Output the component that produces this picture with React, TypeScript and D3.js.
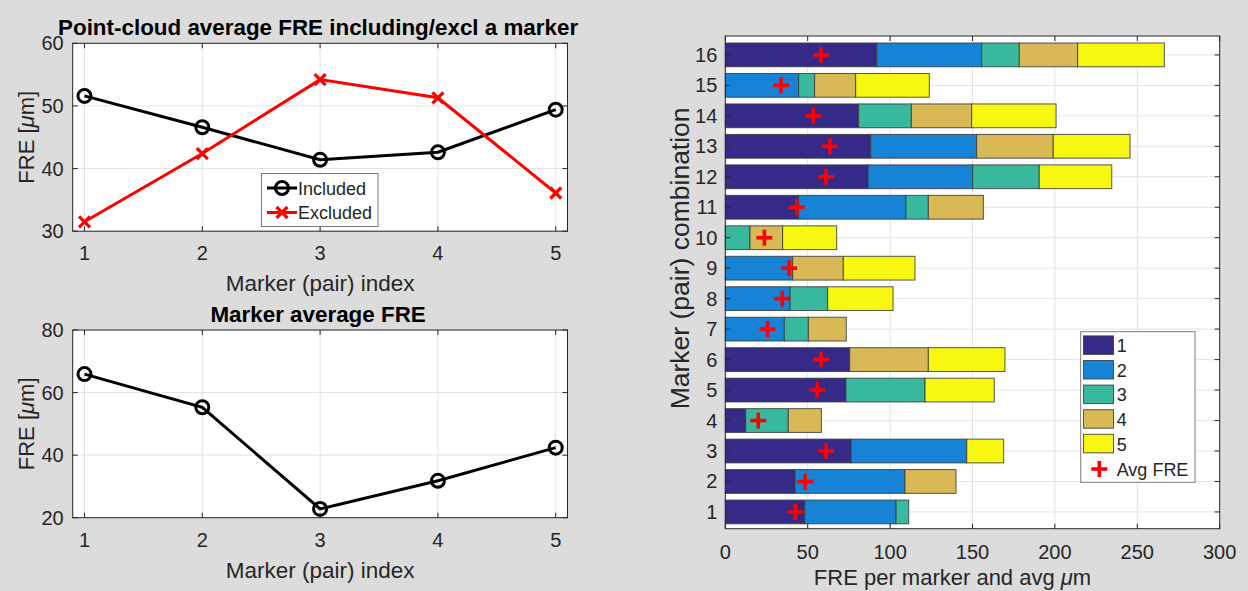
import React from "react";
import * as d3 from "d3";

// ---- data ----
const markerIdx = [1, 2, 3, 4, 5];
const includedFRE = [51.6, 46.6, 41.4, 42.6, 49.4];
const excludedFRE = [31.5, 42.4, 54.2, 51.3, 36.1];
const markerAvgFRE = [65.9, 55.3, 22.8, 31.8, 42.4];

const comboIds = [1, 2, 3, 4, 5, 6, 7, 8, 9, 10, 11, 12, 13, 14, 15, 16];
// FRE contribution of each marker within every combination
const m1 = [48.2, 42.3, 76.3, 12.4, 73.2, 75.5, 0, 0, 0, 0, 44.5, 86.6, 88.2, 80.9, 0, 91.9];
const m2 = [55.4, 66.7, 70.2, 0, 0, 0, 35.8, 39.3, 40.9, 0, 65.1, 63.5, 64.3, 0, 44.5, 63.7];
const m3 = [7.7, 0, 0, 25.8, 48.0, 0, 14.6, 22.8, 0, 15.0, 13.6, 40.4, 0, 32.0, 9.7, 22.8];
const m4 = [0, 31.0, 0, 20.1, 0, 47.7, 23.0, 0, 30.7, 19.8, 33.4, 0, 46.5, 36.6, 24.9, 35.4];
const m5 = [0, 0, 22.4, 0, 42.0, 46.5, 0, 39.7, 43.5, 32.8, 0, 44.0, 46.6, 51.2, 44.7, 52.6];
const comboAvg = [42.5, 48.5, 61.1, 20.0, 55.8, 58.1, 25.7, 34.6, 38.7, 23.7, 43.3, 61.1, 63.5, 53.4, 33.8, 58.1];

const seriesKeys = ["1", "2", "3", "4", "5"];
const seriesColors = ["#352a87", "#1683d6", "#38b99e", "#d8b956", "#f7f711"];

const xTicksRight = [0, 50, 100, 150, 200, 250, 300];
const yTicksTop = [30, 40, 50, 60];
const yTicksBottom = [20, 40, 60, 80];

const FONT = "'Liberation Sans', Arial, Helvetica, sans-serif";
const AXIS = "#262626";
const GRID = "#e3e3e3";

type Pt = [number, number];

function XMark({ x, y, s, color }: { x: number; y: number; s: number; color: string }) {
  return (
    <g stroke={color} strokeWidth={3.2} strokeLinecap="butt">
      <line x1={x - s} y1={y - s} x2={x + s} y2={y + s} />
      <line x1={x - s} y1={y + s} x2={x + s} y2={y - s} />
    </g>
  );
}

function PlusMark({ x, y, s, color }: { x: number; y: number; s: number; color: string }) {
  return (
    <g stroke={color} strokeWidth={3.6}>
      <line x1={x - s} y1={y} x2={x + s} y2={y} />
      <line x1={x} y1={y - s} x2={x} y2={y + s} />
    </g>
  );
}

function LinePanel(props: {
  top: number;
  bottom: number;
  yDomain: [number, number];
  yTicks: number[];
  title: string;
  series: { values: number[]; color: string; marker: "o" | "x" }[];
  legend?: boolean;
}) {
  const { top, bottom, yDomain, yTicks, title, series, legend } = props;
  const left = 72.7;
  const right = 567.5;
  const x = d3.scaleLinear().domain([0.9, 5.1]).range([left, right]);
  const y = d3.scaleLinear().domain(yDomain).range([bottom, top]);
  const line = d3
    .line<Pt>()
    .x((d) => x(d[0]))
    .y((d) => y(d[1]));
  const midY = (top + bottom) / 2;
  return (
    <g fontFamily={FONT}>
      <rect x={left} y={top} width={right - left} height={bottom - top} fill="#fff" />
      {markerIdx.map((v) => (
        <line key={"gx" + v} x1={x(v)} x2={x(v)} y1={top} y2={bottom} stroke={GRID} strokeWidth={1} />
      ))}
      {yTicks.map((v) => (
        <line key={"gy" + v} x1={left} x2={right} y1={y(v)} y2={y(v)} stroke={GRID} strokeWidth={1} />
      ))}
      {series.map((s, i) => {
        const pts: Pt[] = s.values.map((v, k) => [markerIdx[k], v]);
        return (
          <g key={"s" + i}>
            <path d={line(pts) || ""} fill="none" stroke={s.color} strokeWidth={3} />
            {pts.map((p, k) =>
              s.marker === "o" ? (
                <circle key={k} cx={x(p[0])} cy={y(p[1])} r={6.5} fill="none" stroke={s.color} strokeWidth={3} />
              ) : (
                <XMark key={k} x={x(p[0])} y={y(p[1])} s={5.5} color={s.color} />
              )
            )}
          </g>
        );
      })}
      <rect x={left} y={top} width={right - left} height={bottom - top} fill="none" stroke={AXIS} strokeWidth={1} />
      {markerIdx.map((v) => (
        <g key={"tx" + v}>
          <line x1={x(v)} x2={x(v)} y1={bottom} y2={bottom - 5} stroke={AXIS} />
          <line x1={x(v)} x2={x(v)} y1={top} y2={top + 5} stroke={AXIS} />
          <text x={x(v)} y={bottom + 29} textAnchor="middle" fontSize={20} fill={AXIS}>
            {v}
          </text>
        </g>
      ))}
      {yTicks.map((v) => (
        <g key={"ty" + v}>
          <line x1={left} x2={left + 5} y1={y(v)} y2={y(v)} stroke={AXIS} />
          <line x1={right} x2={right - 5} y1={y(v)} y2={y(v)} stroke={AXIS} />
          <text x={left - 9} y={y(v) + 7} textAnchor="end" fontSize={20} fill={AXIS}>
            {v}
          </text>
        </g>
      ))}
      <text x={(left + right) / 2} y={bottom + 60} textAnchor="middle" fontSize={22.5} fill={AXIS}>
        Marker (pair) index
      </text>
      <text
        transform={`translate(${34},${midY}) rotate(-90)`}
        textAnchor="middle"
        fontSize={22}
        fill={AXIS}
      >
        FRE [<tspan fontStyle="italic">μ</tspan>m]
      </text>
      <text x={(left + right) / 2 - 2} y={top - 8} textAnchor="middle" fontSize={22.4} fontWeight="bold" fill="#000">
        {title}
      </text>
      {legend && (
        <g>
          <rect x={261.5} y={173.5} width={116.5} height={53} fill="#fff" stroke="#7a7a7a" strokeWidth={1} />
          <line x1={267} x2={297} y1={188} y2={188} stroke="#000" strokeWidth={3} />
          <circle cx={282} cy={188} r={6.5} fill="none" stroke="#000" strokeWidth={3} />
          <text x={298} y={194.5} fontSize={18} fill={AXIS}>
            Included
          </text>
          <line x1={267} x2={297} y1={212.5} y2={212.5} stroke="#ff0000" strokeWidth={3} />
          <XMark x={282} y={212.5} s={5.5} color="#ff0000" />
          <text x={298} y={219} fontSize={18} fill={AXIS}>
            Excluded
          </text>
        </g>
      )}
    </g>
  );
}

function StackedPanel() {
  const left = 725.3;
  const right = 1219.7;
  const top = 36;
  const bottom = 528.7;
  const x = d3.scaleLinear().domain([0, 300]).range([left, right]);
  const y = d3.scaleLinear().domain([0.45, 16.62]).range([bottom, top]);
  const barH = y(0) - y(0.78);

  const rows = comboIds.map((id, i) => ({
    id,
    "1": m1[i],
    "2": m2[i],
    "3": m3[i],
    "4": m4[i],
    "5": m5[i],
  }));
  const stacked = d3.stack<any>().keys(seriesKeys)(rows);

  const legendX = 1080.7;
  const legendY = 331.7;

  return (
    <g fontFamily={FONT}>
      <rect x={left} y={top} width={right - left} height={bottom - top} fill="#fff" />
      {xTicksRight.map((v) => (
        <line key={"gx" + v} x1={x(v)} x2={x(v)} y1={top} y2={bottom} stroke={GRID} />
      ))}
      {comboIds.map((v) => (
        <line key={"gy" + v} x1={left} x2={right} y1={y(v)} y2={y(v)} stroke={GRID} />
      ))}
      {stacked.map((layer, li) => (
        <g key={"layer" + li} fill={seriesColors[li]} stroke="#3a3a3a" strokeOpacity={0.85} strokeWidth={1}>
          {layer.map((seg, ri) =>
            seg[1] - seg[0] > 0 ? (
              <rect
                key={ri}
                x={x(seg[0])}
                y={y(comboIds[ri]) - barH / 2}
                width={x(seg[1]) - x(seg[0])}
                height={barH}
              />
            ) : null
          )}
        </g>
      ))}
      {comboAvg.map((v, i) => (
        <PlusMark key={"avg" + i} x={x(v)} y={y(comboIds[i])} s={8} color="#ff0000" />
      ))}
      <rect x={left} y={top} width={right - left} height={bottom - top} fill="none" stroke={AXIS} strokeWidth={1} />
      {xTicksRight.map((v) => (
        <g key={"tx" + v}>
          <line x1={x(v)} x2={x(v)} y1={bottom} y2={bottom - 5} stroke={AXIS} />
          <line x1={x(v)} x2={x(v)} y1={top} y2={top + 5} stroke={AXIS} />
          <text x={x(v)} y={bottom + 30} textAnchor="middle" fontSize={20} fill={AXIS}>
            {v}
          </text>
        </g>
      ))}
      {comboIds.map((v) => (
        <g key={"ty" + v}>
          <line x1={left} x2={left + 5} y1={y(v)} y2={y(v)} stroke={AXIS} />
          <line x1={right} x2={right - 5} y1={y(v)} y2={y(v)} stroke={AXIS} />
          <text x={left - 8} y={y(v) + 7} textAnchor="end" fontSize={20} fill={AXIS}>
            {v}
          </text>
        </g>
      ))}
      <text x={(left + right) / 2 - 20} y={585} textAnchor="middle" fontSize={22} fill={AXIS}>
        FRE per marker and avg <tspan fontStyle="italic">μ</tspan>m
      </text>
      <text
        transform={`translate(${689},${(top + bottom) / 2 - 24}) rotate(-90)`}
        textAnchor="middle"
        fontSize={26.5}
        fill={AXIS}
      >
        Marker (pair) combination
      </text>
      <g>
        <rect x={legendX} y={legendY} width={114.3} height={150.6} fill="#fff" stroke="#7a7a7a" strokeWidth={1} />
        {seriesKeys.map((k, i) => (
          <g key={"lg" + k}>
            <rect
              x={legendX + 2.8}
              y={legendY + 4.2 + i * 24.6}
              width={30}
              height={18.5}
              fill={seriesColors[i]}
              stroke="#3a3a3a"
              strokeOpacity={0.85}
            />
            <text x={legendX + 36} y={legendY + 20.5 + i * 24.6} fontSize={18} fill={AXIS}>
              {k}
            </text>
          </g>
        ))}
        <PlusMark x={legendX + 18.6} y={legendY + 137.3} s={8} color="#ff0000" />
        <text x={legendX + 36} y={legendY + 144} fontSize={18} fill={AXIS}>
          Avg FRE
        </text>
      </g>
    </g>
  );
}

export default function App() {
  return (
    <svg
      width={1248}
      height={591}
      viewBox="0 0 1248 591"
      style={{ position: "absolute", left: 0, top: 0, display: "block" }}
    >
      <rect x={0} y={0} width={1248} height={591} fill="#dcdcdc" />
      <LinePanel
        top={43.3}
        bottom={231.2}
        yDomain={[30, 60]}
        yTicks={yTicksTop}
        title="Point-cloud average FRE including/excl a marker"
        series={[
          { values: includedFRE, color: "#000000", marker: "o" },
          { values: excludedFRE, color: "#ff0000", marker: "x" },
        ]}
        legend
      />
      <LinePanel
        top={330}
        bottom={517.7}
        yDomain={[20, 80]}
        yTicks={yTicksBottom}
        title="Marker average FRE"
        series={[{ values: markerAvgFRE, color: "#000000", marker: "o" }]}
      />
      <StackedPanel />
    </svg>
  );
}
